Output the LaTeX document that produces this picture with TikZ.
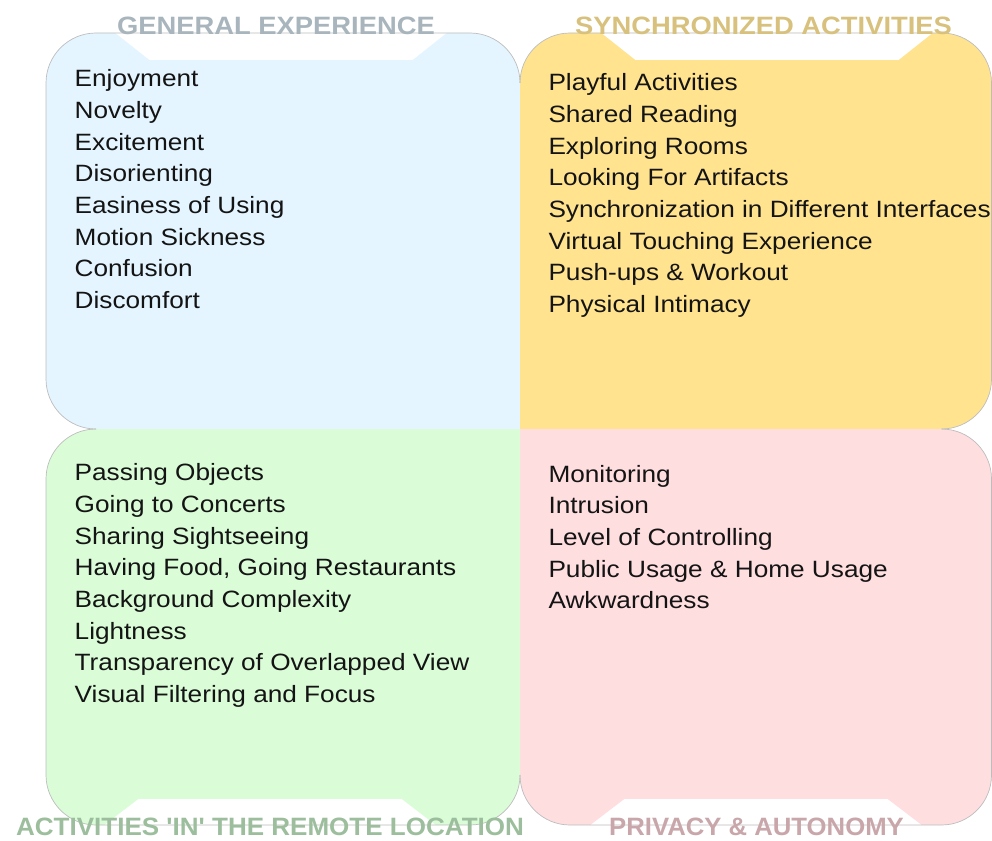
\documentclass[tikz,border=0pt]{standalone}
\usepackage{fontspec}
\setmainfont{Liberation Sans}
\newfontfamily\bodyfont[FakeStretch=1.11]{Liberation Sans}
\newfontfamily\ttlfont{Liberation Sans Bold}
\definecolor{qblue}{HTML}{E4F5FF}
\definecolor{qyellow}{HTML}{FFE38F}
\definecolor{qgreen}{HTML}{DAFDD8}
\definecolor{qpink}{HTML}{FFDEE0}
\definecolor{tblue}{HTML}{A8B5BD}
\definecolor{tyellow}{HTML}{D8C17D}
\definecolor{tgreen}{HTML}{9CBE9D}
\definecolor{tpink}{HTML}{C8A6AA}
\definecolor{edgegray}{HTML}{BDBDBD}
\tikzset{
  item/.style={anchor=base west, inner sep=0pt, font=\bodyfont\fontsize{23.6}{28}\selectfont, text=black!92},
  ttl/.style={anchor=base, inner sep=0pt, text depth=0pt, font=\ttlfont\fontsize{25.1}{30}\selectfont},
  rim/.style={draw=edgegray, line width=0.7pt},
  tabcut/.style={fill=white},
}
\begin{document}
\begin{tikzpicture}[x=1pt,y=-1pt]
\useasboundingbox (0,0) rectangle (992,840);
\clip (0,0) rectangle (992,840);
% quadrant fills
\fill[qblue] (520,429) -- (520,83) .. controls (520,55.4) and (497.6,33) .. (470,33) -- (96,33) .. controls (68.4,33) and (46,55.4) .. (46,83) -- (46,379) .. controls (46,406.6) and (68.4,429) .. (96,429) -- cycle;
\fill[qyellow] (520,429) -- (520,83) .. controls (520,55.4) and (542.4,33) .. (570,33) -- (941.5,33) .. controls (969.1,33) and (991.5,55.4) .. (991.5,83) -- (991.5,379) .. controls (991.5,406.6) and (969.1,429) .. (941.5,429) -- cycle;
\fill[qgreen] (520,429) -- (96,429) .. controls (68.4,429) and (46,451.4) .. (46,479) -- (46,775) .. controls (46,802.6) and (68.4,825) .. (96,825) -- (470,825) .. controls (497.6,825) and (520,802.6) .. (520,775) -- cycle;
\fill[qpink] (520,429) -- (941.5,429) .. controls (969.1,429) and (991.5,451.4) .. (991.5,479) -- (991.5,775) .. controls (991.5,802.6) and (969.1,825) .. (941.5,825) -- (570,825) .. controls (542.4,825) and (520,802.6) .. (520,775) -- cycle;
% title tabs
\fill[tabcut] (115.5,33) -- (446.5,33) -- (412.5,60) -- (149.5,60) -- cycle;
\fill[tabcut] (601.5,33) -- (932.5,33) -- (898.5,60) -- (635.5,60) -- cycle;
\fill[tabcut] (104.5,825) -- (435.5,825) -- (401.5,799) -- (138.5,799) -- cycle;
\fill[tabcut] (590.5,825) -- (921.5,825) -- (887.5,799) -- (624.5,799) -- cycle;
% outlines
\draw[rim] (520,83) .. controls (520,55.4) and (497.6,33) .. (470,33) -- (96,33) .. controls (68.4,33) and (46,55.4) .. (46,83) -- (46,379) .. controls (46,406.6) and (68.4,429) .. (96,429);
\draw[rim] (520,83) .. controls (520,55.4) and (542.4,33) .. (570,33) -- (941.5,33) .. controls (969.1,33) and (991.5,55.4) .. (991.5,83) -- (991.5,379) .. controls (991.5,406.6) and (969.1,429) .. (941.5,429);
\draw[rim] (96,429) .. controls (68.4,429) and (46,451.4) .. (46,479) -- (46,775) .. controls (46,802.6) and (68.4,825) .. (96,825) -- (470,825) .. controls (497.6,825) and (520,802.6) .. (520,775);
\draw[rim] (941.5,429) .. controls (969.1,429) and (991.5,451.4) .. (991.5,479) -- (991.5,775) .. controls (991.5,802.6) and (969.1,825) .. (941.5,825) -- (570,825) .. controls (542.4,825) and (520,802.6) .. (520,775);
% titles
\node[ttl, text=tblue] (ttlTL) at (276,35) {\scalebox{1.09}[1]{GENERAL EXPERIENCE}};
\node[ttl, text=tyellow] (ttlTR) at (763.5,35) {\scalebox{1.09}[1]{SYNCHRONIZED ACTIVITIES}};
\node[ttl, text=tgreen] (ttlBL) at (270,835) {\scalebox{1.037}[1]{ACTIVITIES 'IN' THE REMOTE LOCATION}};
\node[ttl, text=tpink] (ttlBR) at (756.5,835) {\scalebox{1.024}[1]{PRIVACY \& AUTONOMY}};
% lists
\foreach \t [count=\i from 0] in {Enjoyment, Novelty, Excitement, Disorienting, Easiness of Using, Motion Sickness, Confusion, Discomfort}
  \node[item] (tl\i) at (74.5,{86.7+31.66*\i}) {\t};
\foreach \t [count=\i from 0] in {Playful Activities, Shared Reading, Exploring Rooms, Looking For Artifacts, Synchronization in Different Interfaces, Virtual Touching Experience, Push-ups \& Workout, Physical Intimacy}
  \node[item] (tr\i) at (548.3,{90.7+31.66*\i}) {\t};
\foreach \t [count=\i from 0] in {Passing Objects, Going to Concerts, Sharing Sightseeing, {Having Food, Going Restaurants}, Background Complexity, Lightness, Transparency of Overlapped View, Visual Filtering and Focus}
  \node[item] (bl\i) at (74.5,{480.7+31.66*\i}) {\t};
\foreach \t [count=\i from 0] in {Monitoring, Intrusion, Level of Controlling, Public Usage \& Home Usage, Awkwardness}
  \node[item] (br\i) at (548.3,{482.3+31.66*\i}) {\t};
\end{tikzpicture}
\end{document}
